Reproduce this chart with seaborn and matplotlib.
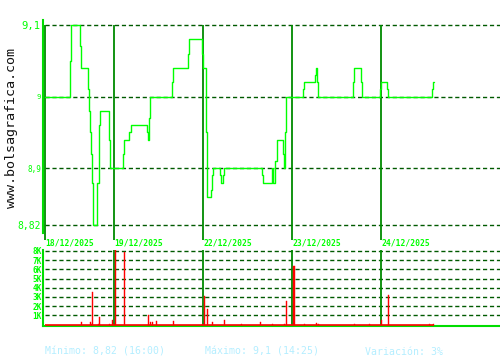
import numpy as np
import pandas as pd
import matplotlib
matplotlib.use("Agg")
import matplotlib.pyplot as plt
import seaborn as sns

# ---------------- data ----------------
day_labels = ["18/12/2025", "19/12/2025", "22/12/2025", "23/12/2025", "24/12/2025"]
day_starts = [0, 69, 158, 247, 336]          # sample index where each session starts

price_x = [0, 24.7, 25.7, 35.3, 36.3, 42.7, 43.7, 44.7, 45.7, 46.7, 47.7, 52.3, 53.7,
           54.7, 63.7, 64.7, 78.3, 79.3, 84.3, 85.7, 102.3, 103.3, 104.3, 105.3, 127.3,
           128.3, 143.3, 144.3, 157.3, 158.3, 161.3, 162.3, 166.3, 167.3, 168.3, 175.3,
           176.3, 178.3, 179.3, 217.3, 218.3, 227.3, 228.3, 230.3, 231.7, 238.3, 239.3,
           240.3, 241.3, 258.3, 259.3, 270.3, 271.3, 272.3, 273.3, 308.3, 309.3, 316.3,
           317.3, 335.3, 336.3, 342.0, 343.3, 387.3, 388.3, 388.7]
price_y = [9.00, 9.05, 9.10, 9.07, 9.04, 9.01, 8.98, 8.95, 8.92, 8.88, 8.82, 8.88, 8.96,
           8.98, 8.94, 8.90, 8.92, 8.94, 8.95, 8.96, 8.95, 8.94, 8.97, 9.00, 9.02,
           9.04, 9.06, 9.08, 9.06, 9.04, 8.95, 8.86, 8.87, 8.89, 8.90, 8.89,
           8.88, 8.89, 8.90, 8.89, 8.88, 8.90, 8.88, 8.91, 8.94, 8.92, 8.90,
           8.95, 9.00, 9.01, 9.02, 9.03, 9.04, 9.02, 9.00, 9.02, 9.04, 9.02,
           9.00, 9.01, 9.02, 9.01, 9.00, 9.01, 9.02, 9.02]

vol_x = [36.3, 45.3, 46.3, 47.3, 53.3, 54.3, 64.3, 67.3, 68.3, 70, 79.3, 103.3, 105.3,
         107.3, 111.3, 128.3, 157.3, 159.3, 162.3, 167.3, 179.3, 196.3, 215.3, 227.3,
         239.7, 241.3, 248, 249, 259.3, 271.3, 273.3, 309.3, 324.3, 336.3, 343.7,
         384.3, 388.3]
vol_v = [270, 270, 100, 3530, 80, 800, 80, 450, 100, 8200, 7900, 1030, 270,
         270, 400, 400, 80, 3100, 1700, 270, 490, 80, 270, 80,
         80, 2560, 6400, 6400, 80, 150, 80, 80, 80, 500, 3200,
         80, 80]

price_ticks = [8.82, 8.9, 9.0, 9.1]
price_tick_labels = ["8,82", "8,9", "9", "9,1"]
vol_ticks = [1000, 2000, 3000, 4000, 5000, 6000, 7000, 8000]
vol_tick_labels = ["1K", "2K", "3K", "4K", "5K", "6K", "7K", "8K"]

footer = ["Mínimo: 8,82 (16:00)", "Máximo: 9,1 (14:25)", "Variación: 3%"]

# ---------------- style ----------------
sns.set_style("white")
plt.rcParams["font.family"] = ["DejaVu Sans Mono", "DejaVu Sans"]

W, H = 500, 360
fig = plt.figure(figsize=(5, 3.6), dpi=100)
fig.patch.set_facecolor("white")

BRIGHT = "#00ff00"
SPINE = "#00dd00"
SEP = "#008a00"
GRID = "#005a00"
XL = (-2, 455)

# ---------------- price panel ----------------
ax = fig.add_axes([43 / W, 1 - 240 / H, 457 / W, 220 / H])
ylo, yhi = 8.7997, 9.107
ax.set_xlim(*XL)
ax.set_ylim(ylo, yhi)
ax.hlines(price_ticks, 0, XL[1], colors=GRID, linestyles=(0, (3, 2)), lw=1.0, zorder=1)
ax.vlines(day_starts, ylo, 9.1, colors=SEP, lw=1.3, zorder=2)

df = pd.DataFrame({"x": price_x, "p": price_y})
sns.lineplot(data=df, x="x", y="p", ax=ax, color=BRIGHT, lw=1.0,
             drawstyle="steps-post", estimator=None, sort=False, zorder=3)

for s in ["top", "right", "bottom"]:
    ax.spines[s].set_visible(False)
ax.spines["left"].set_color(SPINE)
ax.spines["left"].set_linewidth(1.5)
ax.spines["left"].set_bounds(8.81, yhi)
ax.set_xticks([])
ax.set_xlabel("")
ax.set_ylabel("")
ax.set_yticks(price_ticks)
ax.set_yticklabels(price_tick_labels)
ax.tick_params(axis="y", length=0, pad=1.5, colors=BRIGHT)
sizes = {"8,82": 7.0, "8,9": 5.6, "9": 5.2, "9,1": 7.6}
for lab in ax.get_yticklabels():
    lab.set_fontsize(sizes[lab.get_text()])
    lab.set_color(BRIGHT)

xt = ax.get_xaxis_transform()
for d, lab in zip(day_starts, day_labels):
    ax.text(d + 0.5, -0.014, lab, transform=xt, ha="left", va="center",
            fontsize=5.8, fontweight="bold", color=BRIGHT, clip_on=False)

# ---------------- volume panel ----------------
av = fig.add_axes([43 / W, 1 - 326 / H, 457 / W, 76 / H])
av.set_xlim(*XL)
av.set_ylim(-163, 8107)
av.hlines(vol_ticks, 0, XL[1], colors=GRID, linestyles=(0, (3, 2)), lw=1.0, zorder=1)
av.vlines(day_starts[1:], 0, 8107, colors=SEP, lw=1.3, zorder=2)
av.plot([min(price_x), max(price_x)], [0, 0], color="red", lw=1.2, zorder=3,
        solid_capstyle="butt")
av.bar(vol_x, vol_v, width=1.0, color="red", edgecolor="red", linewidth=0.3, zorder=4)
for s in ["top", "right"]:
    av.spines[s].set_visible(False)
for s in ["left", "bottom"]:
    av.spines[s].set_color(SPINE)
    av.spines[s].set_linewidth(1.5)
av.set_ylim(-163, 8107)
av.set_xticks([])
av.set_xlabel("")
av.set_ylabel("")
av.set_yticks(vol_ticks)
av.set_yticklabels(vol_tick_labels)
av.tick_params(axis="y", length=0, pad=1, colors=BRIGHT, labelsize=5.6)
for lab in av.get_yticklabels():
    lab.set_fontweight("bold")

# ---------------- texts ----------------
fig.text(12 / W, 1 - 128 / H, "www.bolsagrafica.com", rotation=90, ha="center",
         va="center", fontsize=9.6, color="#111111")
for xpos, t in zip([45, 205, 365], footer):
    fig.text(xpos / W, 1 - 352 / H, t, ha="left", va="center", fontsize=7.1,
             color="#b4eeff")

fig.savefig("out.png", dpi=100, facecolor="white")
